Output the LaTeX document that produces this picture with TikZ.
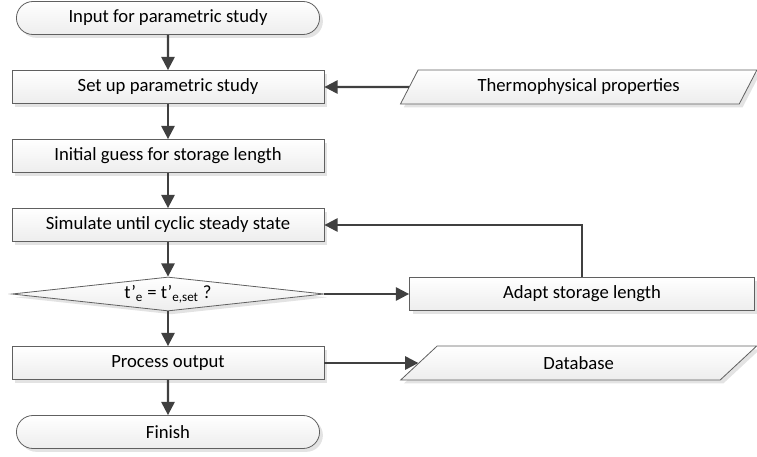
\documentclass[tikz,border=0pt]{standalone}
\usepackage{fontspec}
\setmainfont{Carlito}
\usepackage{tikz}
\usetikzlibrary{shapes,arrows.meta,positioning,shadows}

\definecolor{linegray}{RGB}{64,64,64}
\definecolor{boxgray}{RGB}{96,96,96}

\begin{document}
\begin{tikzpicture}[node distance=51.75pt, auto, font=\fontsize{14}{16}\selectfont]
    % Define styles
    \tikzstyle{boxshade} = [draw=boxgray, line width=0.6pt, top color=white, bottom color=gray!14, drop shadow={shadow xshift=2.5pt, shadow yshift=-2.5pt, fill=gray!22, opacity=1}]
    \tikzstyle{process} = [rectangle, boxshade, minimum width=234pt, minimum height=24.75pt, text centered]
    \tikzstyle{startend} = [rounded rectangle, boxshade, minimum width=234pt, minimum height=24.75pt, text centered]
    \tikzstyle{decision} = [diamond, boxshade, aspect=9, inner sep=0pt, minimum width=234pt, minimum height=25.5pt, text centered]
    \tikzstyle{data} = [trapezium, trapezium left angle=65, trapezium right angle=115, trapezium stretches=true, boxshade, minimum width=268pt, minimum height=25.5pt, text centered]
    \tikzstyle{line} = [draw=linegray, line width=1.7pt, -{Triangle[length=10pt, width=10pt]}]

    \useasboundingbox (0,0) rectangle (567.75pt,-342.75pt);

    % Nodes
    \node[startend] at (126pt,-13.5pt) (input) {Input for parametric study};
    \node[process, below of=input] (setup) {Set up parametric study};
    \node[process, below of=setup] (guess) {Initial guess for storage length};
    \node[process, below of=guess] (simulate) {Simulate until cyclic steady state};
    \node[decision, below of=simulate] (check) {t’\textsubscript{e} = t’\textsubscript{e,set} ?};
    \node[process, below of=check] (output) {Process output};
    \node[startend, below of=output] (finish) {Finish};
    \node[process, right of=check, node distance=310.5pt, minimum width=258.75pt] (adapt) {Adapt storage length};
    \node[data, right of=setup, node distance=308pt] (thermo) {Thermophysical properties};
    \node[data, right of=output, node distance=308pt] (database) {Database};

    % Connections
    \draw[line] (input) -- (setup);
    \draw[line] (thermo) -- (setup);
    \draw[line] (setup) -- (guess);
    \draw[line] (guess) -- (simulate);
    \draw[line] (simulate) -- (check);
    \draw[line] (check) -- (adapt);
    \draw[line] (adapt.north) |- (simulate.east);
    \draw[line] (check) -- (output);
    \draw[line] (output) -- (database);
    \draw[line] (output) -- (finish);
\end{tikzpicture}
\end{document}
